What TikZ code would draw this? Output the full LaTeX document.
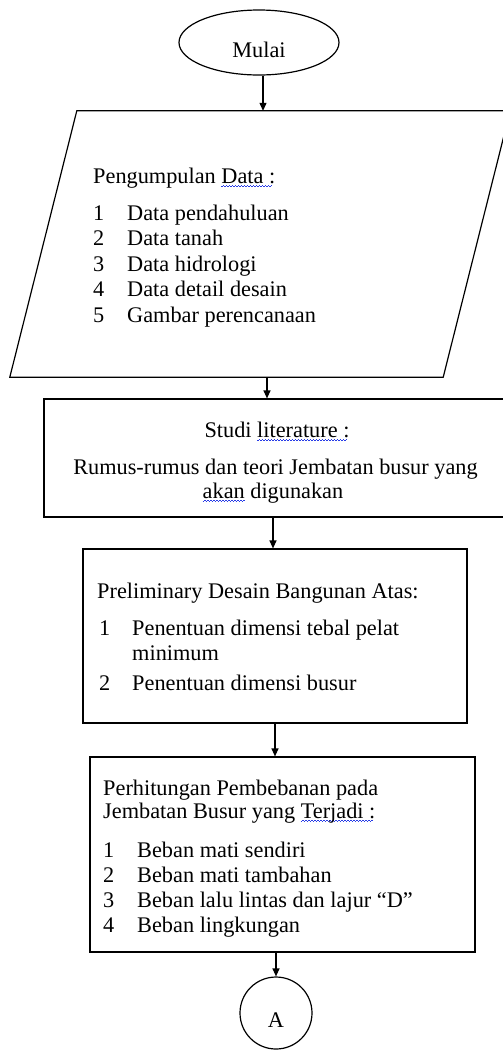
\documentclass[tikz,border=0pt]{standalone}
\usepackage{fontspec}
\setmainfont{Liberation Serif}
\usetikzlibrary{shapes.geometric,arrows.meta}
\definecolor{spellblue}{RGB}{40,60,230}
\newsavebox\spbox
\newcommand\spell[1]{\sbox\spbox{#1}\leavevmode\rlap{\textcolor{spellblue}{\raisebox{-3.5pt}{\hbox to\wd\spbox{\leaders\hbox to 3pt{\rule{1.5pt}{0.7pt}\rule[1.2pt]{1.5pt}{0.7pt}}\hfil}}}}\usebox\spbox}
\begin{document}
\begin{tikzpicture}[x=1pt,y=-1pt,
  font=\fontsize{22.3}{25}\selectfont,
  shapeline/.style={draw, line width=1.2pt, inner sep=0pt},
  proc/.style={shapeline, rectangle},
  arr/.style={line width=1.2pt, -{Triangle[length=8pt,width=7pt]}},
  txt/.style={anchor=base west, inner sep=0pt},
  ctxt/.style={anchor=base, inner sep=0pt}]
\useasboundingbox (0,0) rectangle (503,1053);

% shapes
\node[shapeline, ellipse, minimum width=160pt, minimum height=65pt,
      text height=29pt, text depth=0pt] (start) at (259,42.5) {Mulai};
\node[inner sep=0pt, minimum width=500pt, minimum height=266pt] (data) at (260,244) {};
\draw[line width=1.2pt, line join=miter] ([xshift=67pt]data.north west) -- (data.north east)
  -- ([xshift=-67pt]data.south east) -- (data.south west) -- cycle;
\node[proc, minimum width=466pt, minimum height=118pt] (lit) at (277,458) {};
\node[proc, minimum width=384pt, minimum height=174pt] (prel) at (275,636) {};
\node[proc, minimum width=385pt, minimum height=195pt] (load) at (282.5,854.5) {};
\node[shapeline, circle, minimum size=72pt, text height=28pt, text depth=0pt] (A) at (276,1013) {A};

% texts: data
\node[txt] (d0) at (93,183) {Pengumpulan \spell{Data :}};
\foreach \n/\t [count=\i] in {1/Data pendahuluan, 2/Data tanah, 3/Data hidrologi,
    4/Data detail desain, 5/Gambar perencanaan} {
  \node[txt] (dn\i) at (93,194.5+25.5*\i) {\n};
  \node[txt] (dt\i) at (127,194.5+25.5*\i) {\t};
}
% literature
\node[ctxt] (l0) at (277,437) {Studi \spell{literature :}};
\node[ctxt] (l1) at (275.5,474) {Rumus-rumus dan teori Jembatan busur yang};
\node[ctxt] (l2) at (273,498) {\spell{akan} digunakan};
% preliminary
\node[txt] (p0) at (97,598) {Preliminary Desain Bangunan Atas:};
\node[txt] (pn1) at (99,635) {1};
\node[txt] (pt1) at (132,635) {Penentuan dimensi tebal pelat};
\node[txt] (pt1b) at (132,660) {minimum};
\node[txt] (pn2) at (99,690) {2};
\node[txt] (pt2) at (132,690) {Penentuan dimensi busur};
% loads
\node[txt] (h0) at (103,795) {Perhitungan Pembebanan pada};
\node[txt] (h1) at (103,818) {Jembatan Busur yang \spell{Terjadi :}};
\foreach \n/\t [count=\i] in {1/Beban mati sendiri, 2/Beban mati tambahan,
    3/Beban lalu lintas dan lajur “D”, 4/Beban lingkungan} {
  \node[txt] (hn\i) at (103,832+25*\i) {\n};
  \node[txt] (ht\i) at (137,832+25*\i) {\t};
}

% connectors
\coordinate (a1) at ([xshift=4pt]start.south);
\coordinate (a2) at ([xshift=-10pt]lit.north);
\coordinate (a3) at ([xshift=-4pt]lit.south);
\draw[arr] (a1) -- (a1 |- data.north);
\draw[arr] (a2 |- data.south) -- (a2);
\draw[arr] (a3) -- (a3 |- prel.north);
\draw[arr] (prel.south) -- (prel.south |- load.north);
\draw[arr] (load.south -| A.north) -- (A.north);
\end{tikzpicture}
\end{document}
